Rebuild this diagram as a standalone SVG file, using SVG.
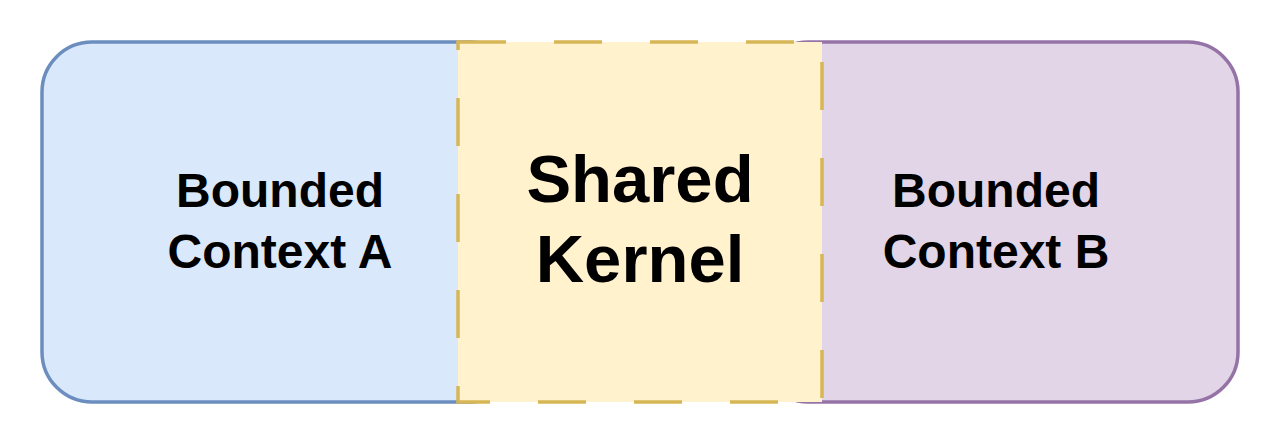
<svg xmlns="http://www.w3.org/2000/svg" width="1280" height="444" viewBox="0 0 1280 444">
  <style>
    .lbl { font-family: "Liberation Sans", Arial, sans-serif; font-weight: bold; fill: #000000; text-anchor: middle; }
    .ctx { font-size: 48px; }
    .kernel { font-size: 67px; }
  </style>
  <rect width="1280" height="444" fill="#ffffff"/>
  <g id="context-a">
    <rect x="42" y="42" width="478" height="360" rx="50" ry="50" fill="#dae8fc" stroke="#6c8ebf" stroke-width="3.5"/>
    <text class="lbl ctx" x="280" y="207">Bounded</text>
    <text class="lbl ctx" x="280" y="268">Context A</text>
  </g>
  <g id="context-b">
    <rect x="758" y="42" width="480" height="360" rx="50" ry="50" fill="#e1d5e7" stroke="#9673a6" stroke-width="3.5"/>
    <text class="lbl ctx" x="996" y="207">Bounded</text>
    <text class="lbl ctx" x="996" y="268">Context B</text>
  </g>
  <g id="shared-kernel">
    <rect x="458" y="42" width="364" height="360" fill="#fff2cc" stroke="#d6b656" stroke-width="3.5" stroke-dasharray="48 48"/>
    <text class="lbl kernel" x="640" y="202">Shared</text>
    <text class="lbl kernel" x="640" y="282">Kernel</text>
  </g>
  <g id="connectors"/>
</svg>
